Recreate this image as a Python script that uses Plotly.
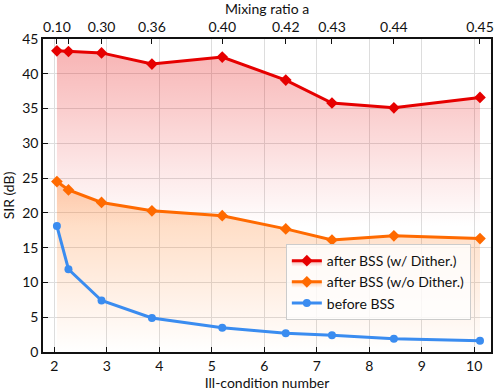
import plotly.graph_objects as go

# Data
cond_number = [2.05, 2.27, 2.90, 3.86, 5.20, 6.41, 7.29, 8.47, 10.11]
mixing_ratio_labels = ['0.10', '', '0.30', '0.36', '0.40', '0.42', '0.43', '0.44', '0.45']
sir_w_dither = [43.3, 43.2, 43.0, 41.4, 42.4, 39.1, 35.8, 35.1, 36.6]
sir_wo_dither = [24.5, 23.3, 21.5, 20.3, 19.6, 17.7, 16.1, 16.7, 16.3]
sir_before = [18.1, 11.9, 7.4, 4.9, 3.5, 2.7, 2.4, 1.9, 1.6]

RED = '#e60000'
ORANGE = '#ff6a00'
BLUE = '#3a8cf0'
FONT = 'Lato'

fig = go.Figure()

# after BSS with dither, gradient fill down towards the orange curve
fig.add_trace(go.Scatter(
    x=cond_number, y=sir_w_dither, name='after BSS (w/ Dither.)',
    mode='lines+markers', line=dict(color=RED, width=3),
    marker=dict(symbol='diamond', size=9, color=RED),
    fill='tozeroy',
    fillgradient=dict(type='vertical', start=18, stop=44,
                      colorscale=[[0, 'rgba(230,0,0,0)'], [1, 'rgba(230,0,0,0.30)']]),
))

# after BSS without dither
fig.add_trace(go.Scatter(
    x=cond_number, y=sir_wo_dither, name='after BSS (w/o Dither.)',
    mode='lines+markers', line=dict(color=ORANGE, width=3),
    marker=dict(symbol='diamond', size=9, color=ORANGE),
    fill='tozeroy',
    fillgradient=dict(type='vertical', start=0, stop=25,
                      colorscale=[[0, 'rgba(255,106,0,0)'], [1, 'rgba(255,106,0,0.30)']]),
))

# before BSS
fig.add_trace(go.Scatter(
    x=cond_number, y=sir_before, name='before BSS',
    mode='lines+markers', line=dict(color=BLUE, width=3),
    marker=dict(symbol='circle', size=8, color=BLUE),
))

# invisible trace to carry the top axis
fig.add_trace(go.Scatter(x=cond_number, y=sir_w_dither, xaxis='x2', mode='lines',
                         line=dict(width=0), hoverinfo='skip', showlegend=False))

x_range = [1.785, 10.32]
axis_common = dict(showline=True, linecolor='#111111', linewidth=1.5,
                   ticks='inside', ticklen=5, tickcolor='#111111',
                   zeroline=False, automargin=False)

fig.update_layout(
    width=498, height=391,
    margin=dict(l=43, r=7, t=39, b=39),
    plot_bgcolor='white', paper_bgcolor='white',
    font=dict(family=FONT, size=14, color='#111111'),
    xaxis=dict(range=x_range, dtick=1, tick0=2,
               showgrid=True, gridcolor='#dddddd', gridwidth=1,
               title=dict(text='Ill-condition number', font=dict(size=14), standoff=2),
               **axis_common),
    xaxis2=dict(range=x_range, overlaying='x', side='top',
                tickvals=cond_number, ticktext=mixing_ratio_labels,
                showgrid=False,
                title=dict(text='Mixing ratio a', font=dict(size=14), standoff=2),
                **axis_common),
    yaxis=dict(range=[0, 45], dtick=5, mirror=True,
               showgrid=True, gridcolor='#dddddd', gridwidth=1,
               title=dict(text='SIR (dB)', font=dict(size=14), standoff=4),
               **axis_common),
    legend=dict(x=0.955, y=0.102, xanchor='right', yanchor='bottom',
                bgcolor='rgba(255,255,255,0.8)', bordercolor='#cccccc', borderwidth=1,
                font=dict(size=14), tracegroupgap=0, itemwidth=30),
    showlegend=True,
)

# drop the default page margin so the figure sits at the window's corner
fig.write_html('out.html', config={'displayModeBar': False},
               post_script="document.body.style.margin='0';")
